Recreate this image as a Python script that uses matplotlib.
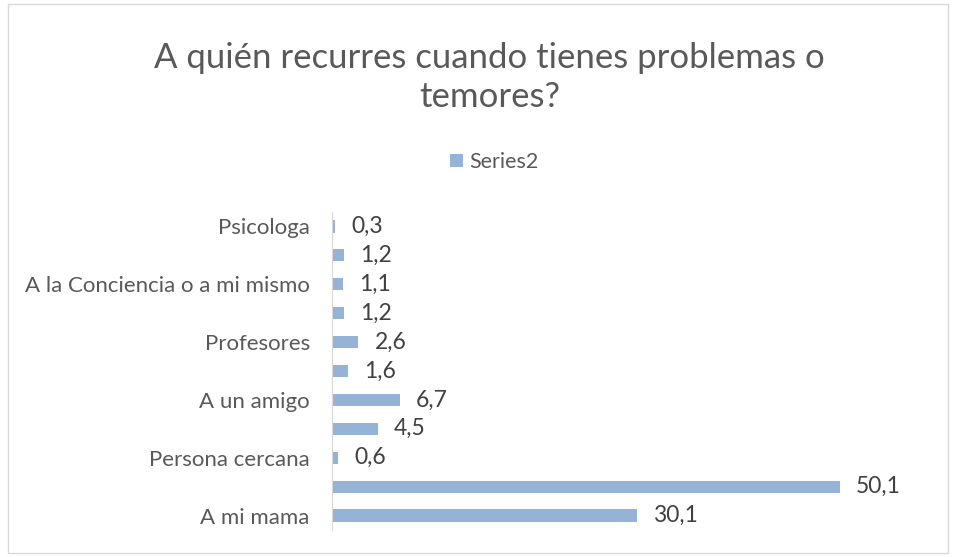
import matplotlib.pyplot as plt
from matplotlib.patches import Rectangle

plt.rcParams['font.family'] = ['Lato', 'DejaVu Sans']

# categories from bottom to top (Excel skips every other label)
categorias = ['A mi mama', '', 'Persona cercana', '', 'A un amigo', '',
              'Profesores', '', 'A la Conciencia o a mi mismo', '', 'Psicologa']
valores = [30.1, 50.1, 0.6, 4.5, 6.7, 1.6, 2.6, 1.2, 1.1, 1.2, 0.3]
etiquetas = ['30,1', '50,1', '0,6', '4,5', '6,7', '1,6', '2,6', '1,2', '1,1', '1,2', '0,3']

GRIS = '#595959'
AZUL = '#95B3D7'

fig = plt.figure(figsize=(9.56, 5.57), dpi=100)
fig.patches.append(Rectangle((0.008, 0.008), 0.984, 0.984, transform=fig.transFigure,
                             fill=False, edgecolor='#D9D9D9', linewidth=1))

ax = fig.add_axes([332 / 956, 1 - 530 / 557, 608 / 956, 318 / 557])
pos = list(range(len(valores)))
bars = ax.barh(pos, valores, height=0.42, color=AZUL, label='Series2')
for b, t in zip(bars, etiquetas):
    ax.text(b.get_width() + 1.6, b.get_y() + b.get_height() / 2, t,
            va='center', ha='left', fontsize=16.5, color='#404040')

ax.set_xlim(0, 60)
ax.set_ylim(-0.5, len(valores) - 0.5)
ax.set_yticks(pos)
ax.set_yticklabels(categorias, fontsize=16, color=GRIS)
ax.tick_params(axis='y', length=0, pad=16)
ax.set_xticks([])
for s in ['top', 'right', 'bottom']:
    ax.spines[s].set_visible(False)
ax.spines['left'].set_color('#D9D9D9')

fig.text(0.512, 0.861, 'A quién recurres cuando tienes problemas o\ntemores?',
         ha='center', va='center', fontsize=25, color=GRIS, linespacing=1.3)
fig.legend(handles=[bars], labels=['Series2'], loc='center', bbox_to_anchor=(0.517, 0.709),
           frameon=False, fontsize=15.5, handlelength=0.6, handleheight=0.6,
           handletextpad=0.3, labelcolor=GRIS)

plt.savefig('out.png', dpi=100)
